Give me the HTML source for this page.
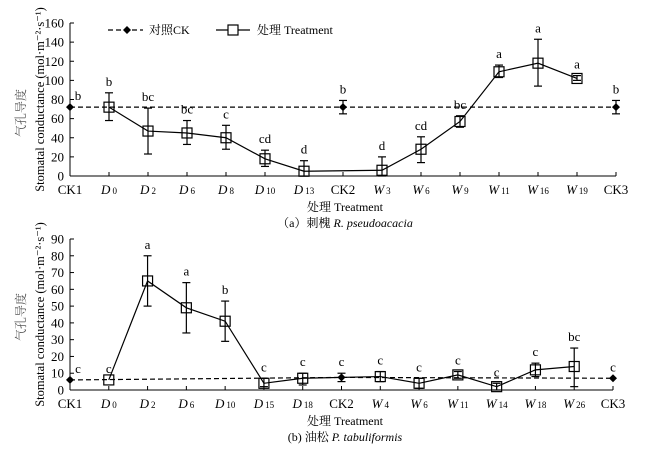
<!DOCTYPE html>
<html><head><meta charset="utf-8"><style>
body{margin:0;background:#fff}
svg{display:block;font-family:"Liberation Serif","Noto Serif CJK SC",serif}
</style></head><body>
<svg id="c" width="645" height="453" viewBox="0 0 645 453" xmlns="http://www.w3.org/2000/svg"></svg>
<script>
// Chart (a)
const aCats=["CK1","D0","D2","D6","D8","D10","D13","CK2","W3","W6","W9","W11","W16","W19","CK3"];
const aTreat=[null,72,47,45,40,18,5,null,6,28,57,109,118,102,null];
const aTreatLo=[null,58,23,33,28,10,0,null,0,14,51,103,94,100,null];
const aTreatHi=[null,87,71,58,53,27,16,null,20,41,63,116,143,105,null];
const aCK=[72,null,null,null,null,null,null,72,null,null,null,null,null,null,72];
const aCKLo=[null,null,null,null,null,null,null,65,null,null,null,null,null,null,65];
const aCKHi=[null,null,null,null,null,null,null,79,null,null,null,null,null,null,79];
const aLetters=["b","b","bc","bc","c","cd","d","b","d","cd","bc","a","a","a","b"];
const aTicks=[0,20,40,60,80,100,120,140,160];
// Chart (b)
const bCats=["CK1","D0","D2","D6","D10","D15","D18","CK2","W4","W6","W11","W14","W18","W26","CK3"];
const bTreat=[null,6,65,49,41,4,7,null,8,4,9,2,12,14,null];
const bTreatLo=[null,6,50,34,29,2,3,null,5,1,7,0,8,2,null];
const bTreatHi=[null,6,80,64,53,7,10,null,11,7,11,4,16,25,null];
const bCK=[6,null,null,null,null,null,null,7.5,null,null,null,null,null,null,7];
const bCKLo=[null,null,null,null,null,null,null,5,null,null,null,null,null,null,null];
const bCKHi=[null,null,null,null,null,null,null,10,null,null,null,null,null,null,null];
const bLetters=["c","c","a","a","b","c","c","c","c","c","c","c","c","bc","c"];
const bTicks=[0,10,20,30,40,50,60,70,80,90];

const svg=document.getElementById('c');
const NS="http://www.w3.org/2000/svg";
function el(t,a,txt){const e=document.createElementNS(NS,t);for(const k in a)e.setAttribute(k,a[k]);if(txt!=null)e.textContent=txt;svg.appendChild(e);return e;}

function chart(o){
  const x=i=>o.x0+(o.x1-o.x0)*i/(o.cats.length-1);
  const y=v=>o.y0-(o.y0-o.yTop)*v/o.max;
  let ax=el('line',{x1:o.x0,y1:o.yTop,x2:o.x0,y2:o.y0,stroke:'#000','stroke-width':1});
  
  ax=el('line',{x1:o.x0,y1:o.y0,x2:o.x1,y2:o.y0,stroke:'#000','stroke-width':1});
  
  o.ticks.forEach(t=>{
    el('line',{x1:o.x0,x2:o.x0+4,y1:y(t),y2:y(t),stroke:'#000'});
    const tl=el('text',{x:o.x0-6,y:y(t)+4.5,'text-anchor':'end','font-size':13},t);
    
  });
  o.cats.forEach((c,i)=>{
    const xi=x(i);
    el('line',{x1:xi,x2:xi,y1:o.y0,y2:o.y0-4,stroke:'#000'});
    const t=el('text',{x:xi,y:o.y0+18,'text-anchor':'middle','font-size':13});
    
    if(c.startsWith('CK')){t.textContent=c;}
    else{const s1=document.createElementNS(NS,'tspan');s1.setAttribute('font-style','italic');s1.textContent=c[0];t.appendChild(s1);
      const s2=document.createElementNS(NS,'tspan');s2.setAttribute('font-size',9);s2.setAttribute('dx',2);s2.textContent=c.slice(1);t.appendChild(s2);}
  });
  const ckIdx=o.ck.map((v,i)=>v!=null?i:-1).filter(i=>i>=0);
  let d='';ckIdx.forEach((i,k)=>d+=(k?'L':'M')+x(i)+' '+y(o.ck[i]));
  const ckl=el('path',{d:d,fill:'none',stroke:'#000','stroke-dasharray':'5,3','stroke-width':1.2});
  
  ckIdx.forEach(i=>{
    if(o.ckLo[i]!=null){const g=[o.ckLo[i],o.ckHi[i]];
      el('line',{x1:x(i),x2:x(i),y1:y(g[0]),y2:y(g[1]),stroke:'#000','stroke-width':1.2});
      g.forEach(v=>el('line',{x1:x(i)-4,x2:x(i)+4,y1:y(v),y2:y(v),stroke:'#000','stroke-width':1.2}));}
    const xi=x(i),yi=y(o.ck[i]);
    const m=el('path',{d:`M${xi} ${yi-4}L${xi+4} ${yi}L${xi} ${yi+4}L${xi-4} ${yi}Z`,fill:'#000'});
    
  });
  const tIdx=o.tr.map((v,i)=>v!=null?i:-1).filter(i=>i>=0);
  d='';tIdx.forEach((i,k)=>d+=(k?'L':'M')+x(i)+' '+y(o.tr[i]));
  const tl=el('path',{d:d,fill:'none',stroke:'#000','stroke-width':1.2});
  
  tIdx.forEach(i=>{
    const xi=x(i);
    if(o.trLo[i]!==o.trHi[i]){
      el('line',{x1:xi,x2:xi,y1:y(o.trLo[i]),y2:y(o.trHi[i]),stroke:'#000','stroke-width':1.2});
      [o.trLo[i],o.trHi[i]].forEach(v=>el('line',{x1:xi-4,x2:xi+4,y1:y(v),y2:y(v),stroke:'#000','stroke-width':1.2}));}
    const m=el('rect',{x:xi-5,y:y(o.tr[i])-5,width:10,height:10,fill:'none',stroke:'#000','stroke-width':1.2});
    
  });
  o.letters.forEach((L,i)=>{
    let top=o.trHi[i]!=null?o.trHi[i]:(o.ckHi[i]!=null?o.ckHi[i]:(o.tr[i]!=null?o.tr[i]:o.ck[i]));
    const lx=o.cats[i]==='CK1'?x(i)+8:x(i);
    const t=el('text',{x:lx,y:y(top)-7,'text-anchor':'middle','font-size':13},L);
    
  });
  const cy=(o.y0+o.yTop)/2;
  let t=el('text',{x:0,y:0,'text-anchor':'middle','font-size':12.5,transform:`translate(44 ${cy}) rotate(-90)`},'Stomatal conductance (mol·m⁻²·s⁻¹)');
  
  t=el('text',{x:0,y:0,'text-anchor':'middle','font-size':12,fill:'#555',transform:`translate(25 ${o.cnY}) rotate(-90)`},'气孔导度');
  
  t=el('text',{x:345,y:o.y0+35,'text-anchor':'middle','font-size':12},'处理 Treatment');
  
  t=el('text',{x:345,y:o.y0+51,'text-anchor':'middle','font-size':12});
  t.innerHTML=o.cap;
  
}
chart({p:'a',cats:aCats,tr:aTreat,trLo:aTreatLo,trHi:aTreatHi,ck:aCK,ckLo:aCKLo,ckHi:aCKHi,letters:aLetters,ticks:aTicks,max:160,x0:70,x1:616,y0:176,yTop:23,cnY:113,cap:'（a）刺槐 <tspan font-style="italic">R. pseudoacacia</tspan>'});
chart({p:'b',cats:bCats,tr:bTreat,trLo:bTreatLo,trHi:bTreatHi,ck:bCK,ckLo:bCKLo,ckHi:bCKHi,letters:bLetters,ticks:bTicks,max:90,x0:70,x1:613,y0:390,yTop:239,cnY:317,cap:'(b) 油松 <tspan font-style="italic">P. tabuliformis</tspan>'});
let lg=el('line',{x1:108,x2:143,y1:30,y2:30,stroke:'#000','stroke-dasharray':'5,3','stroke-width':1.2});

el('path',{d:'M127 26L131 30L127 34L123 30Z',fill:'#000'});
lg=el('text',{x:149,y:34,'font-size':12},'对照CK');

lg=el('line',{x1:216,x2:250,y1:30,y2:30,stroke:'#000','stroke-width':1.2});

el('rect',{x:228,y:25,width:10,height:10,fill:'#fff',stroke:'#000','stroke-width':1.2});
lg=el('text',{x:257,y:34,'font-size':12},'处理 Treatment');

</script>
</body></html>
